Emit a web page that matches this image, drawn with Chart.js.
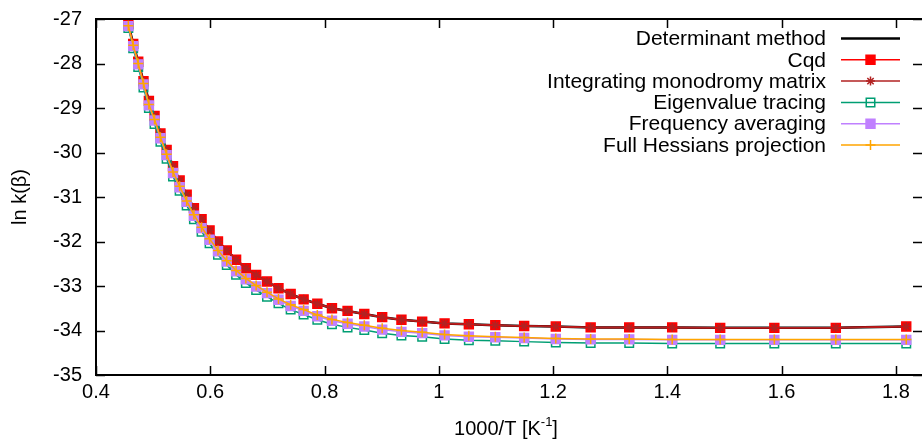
<!DOCTYPE html>
<html>
<head>
<meta charset="utf-8">
<script src="https://cdn.jsdelivr.net/npm/chart.js@4/dist/chart.umd.min.js"></script>
<style>
  html, body { margin: 0; padding: 0; background: #fff; }
  #wrap { width: 922px; height: 441px; position: relative; }
</style>
</head>
<body>
<div id="wrap"><canvas id="rateChart"></canvas></div>
<script>
// 1000/T [K^-1], one entry per temperature
const invTemp = [
  0.4566, 0.4651, 0.4739, 0.4831, 0.4926, 0.5025, 0.5128, 0.5236, 0.5348, 0.5464,
  0.5587, 0.5714, 0.5848, 0.5988, 0.6135, 0.6289, 0.6452, 0.6623, 0.6803, 0.6993,
  0.7194, 0.7407, 0.7634, 0.7874, 0.8130, 0.8403, 0.8696, 0.9009, 0.9346, 0.9709,
  1.0101, 1.0526, 1.0989, 1.1494, 1.2048, 1.2658, 1.3333, 1.4085, 1.4925, 1.5873,
  1.6949, 1.8182
];

// ln k(beta) per method
const determinant = [
  -27.12, -27.56, -27.96, -28.40, -28.84, -29.18, -29.57, -29.94, -30.31, -30.63,
  -30.95, -31.25, -31.50, -31.75, -32.00, -32.20, -32.41, -32.60, -32.75, -32.90,
  -33.05, -33.18, -33.30, -33.40, -33.50, -33.56, -33.63, -33.70, -33.76, -33.80,
  -33.84, -33.86, -33.88, -33.90, -33.91, -33.93, -33.93, -33.93, -33.94, -33.94,
  -33.94, -33.91
];
const cqd = [
  -27.12, -27.56, -27.96, -28.40, -28.84, -29.18, -29.57, -29.94, -30.31, -30.63,
  -30.95, -31.25, -31.50, -31.75, -32.00, -32.20, -32.41, -32.60, -32.75, -32.90,
  -33.05, -33.18, -33.30, -33.40, -33.50, -33.56, -33.63, -33.70, -33.76, -33.80,
  -33.84, -33.86, -33.88, -33.90, -33.91, -33.93, -33.93, -33.93, -33.94, -33.94,
  -33.94, -33.91
];
const monodromy = [
  -27.12, -27.56, -27.96, -28.40, -28.84, -29.18, -29.57, -29.94, -30.31, -30.63,
  -30.95, -31.25, -31.50, -31.75, -32.00, -32.20, -32.41, -32.60, -32.75, -32.90,
  -33.05, -33.18, -33.30, -33.40, -33.50, -33.56, -33.63, -33.70, -33.76, -33.80,
  -33.84, -33.86, -33.88, -33.90, -33.91, -33.93, -33.93, -33.93, -33.94, -33.94,
  -33.94, -33.91
];
const eigenTracing = [
  -27.20, -27.66, -28.08, -28.54, -29.00, -29.36, -29.76, -30.14, -30.54, -30.86,
  -31.19, -31.50, -31.78, -32.04, -32.30, -32.53, -32.75, -32.93, -33.09, -33.24,
  -33.39, -33.53, -33.64, -33.76, -33.86, -33.93, -33.99, -34.06, -34.11, -34.14,
  -34.19, -34.22, -34.23, -34.25, -34.27, -34.28, -34.28, -34.29, -34.29, -34.29,
  -34.29, -34.29
];
const freqAveraging = [
  -27.16, -27.61, -28.02, -28.47, -28.94, -29.28, -29.68, -30.06, -30.46, -30.78,
  -31.11, -31.42, -31.70, -31.96, -32.22, -32.45, -32.67, -32.85, -33.01, -33.16,
  -33.31, -33.45, -33.56, -33.68, -33.78, -33.85, -33.91, -33.98, -34.03, -34.06,
  -34.11, -34.14, -34.15, -34.17, -34.19, -34.20, -34.20, -34.21, -34.21, -34.21,
  -34.21, -34.21
];
const fullHessians = [
  -27.15, -27.59, -28.00, -28.45, -28.92, -29.26, -29.66, -30.04, -30.44, -30.76,
  -31.09, -31.40, -31.68, -31.94, -32.20, -32.43, -32.65, -32.83, -32.99, -33.14,
  -33.29, -33.42, -33.53, -33.65, -33.75, -33.82, -33.88, -33.95, -34.00, -34.04,
  -34.09, -34.12, -34.14, -34.16, -34.18, -34.19, -34.19, -34.20, -34.20, -34.20,
  -34.20, -34.20
];

// Axis ticks
const xTicks = [0.4, 0.6, 0.8, 1.0, 1.2, 1.4, 1.6, 1.8];
const xTickLabels = ['0.4', '0.6', '0.8', '1', '1.2', '1.4', '1.6', '1.8'];
const yTicks = [-35, -34, -33, -32, -31, -30, -29, -28, -27];

const FONT = '"Liberation Sans", Arial, Helvetica, sans-serif';
Chart.defaults.font.family = FONT;
Chart.defaults.font.size = 20;
Chart.defaults.color = '#000';

function toPoints(ys) {
  return ys.map((y, i) => ({ x: invTemp[i], y: y }));
}

// Border and inward ticks on all four sides, gnuplot style
// (the right border line itself falls just outside the picture)
const framePlugin = {
  id: 'frame',
  afterDraw(chart) {
    const ctx = chart.ctx;
    const a = chart.chartArea;
    const xs = chart.scales.x;
    const ys = chart.scales.y;
    const len = 9;
    ctx.save();
    ctx.strokeStyle = '#000';
    ctx.lineWidth = 1.5;
    ctx.beginPath();
    xs.ticks.forEach(t => {
      const px = Math.round(xs.getPixelForValue(t.value)) + 0.5;
      ctx.moveTo(px, a.bottom); ctx.lineTo(px, a.bottom - len);
      ctx.moveTo(px, a.top); ctx.lineTo(px, a.top + len);
    });
    ys.ticks.forEach(t => {
      const py = Math.round(ys.getPixelForValue(t.value)) + 0.5;
      ctx.moveTo(a.left, py); ctx.lineTo(a.left + len, py);
      ctx.moveTo(a.right + 1, py); ctx.lineTo(a.right + 1 - len, py);
    });
    ctx.stroke();
    ctx.lineWidth = 2;
    ctx.beginPath();
    ctx.moveTo(a.right + 2, a.top);
    ctx.lineTo(a.left, a.top);
    ctx.lineTo(a.left, a.bottom);
    ctx.lineTo(a.right + 2, a.bottom);
    ctx.stroke();

    // x axis title with superscript
    ctx.fillStyle = '#000';
    ctx.textBaseline = 'alphabetic';
    const main = '1000/T [K';
    ctx.font = '20px ' + FONT;
    const w1 = ctx.measureText(main).width;
    const w3 = ctx.measureText(']').width;
    ctx.font = '13px ' + FONT;
    const w2 = ctx.measureText('-1').width;
    const cx = 506;
    let x0 = cx - (w1 + w2 + w3) / 2;
    const base = 435;
    ctx.font = '20px ' + FONT;
    ctx.textAlign = 'left';
    ctx.fillText(main, x0, base);
    ctx.font = '13px ' + FONT;
    ctx.fillText('-1', x0 + w1, base - 9);
    ctx.font = '20px ' + FONT;
    ctx.fillText(']', x0 + w1 + w2, base);
    ctx.restore();
  }
};

// Key in the upper right: label right-aligned, sample line with marker
const keyPlugin = {
  id: 'key',
  afterDraw(chart) {
    const ctx = chart.ctx;
    const textRight = 826;
    const lineL = 841, lineR = 900;
    const top = 38.5, step = 21.3;
    ctx.save();
    ctx.font = '21px ' + FONT;
    ctx.textAlign = 'right';
    ctx.textBaseline = 'middle';
    chart.data.datasets.forEach((ds, i) => {
      const y = top + i * step;
      ctx.fillStyle = '#000';
      ctx.fillText(ds.label, textRight, y + 1);
      ctx.strokeStyle = ds.borderColor;
      ctx.lineWidth = ds.borderWidth;
      ctx.beginPath();
      ctx.moveTo(lineL, y); ctx.lineTo(lineR, y);
      ctx.stroke();
      if (ds.pointRadius > 0) {
        ctx.fillStyle = ds.pointBackgroundColor;
        ctx.strokeStyle = ds.pointBorderColor;
        ctx.lineWidth = ds.pointBorderWidth;
        Chart.helpers.drawPoint(ctx, {
          pointStyle: ds.pointStyle, radius: ds.pointRadius,
          rotation: 0, borderWidth: ds.pointBorderWidth
        }, (lineL + lineR) / 2, y);
      }
    });
    ctx.restore();
  }
};

function series(label, data, color, width, style, radius, fill, order) {
  return {
    label: label,
    data: toPoints(data),
    borderColor: color,
    backgroundColor: color,
    borderWidth: width,
    pointStyle: style,
    pointRadius: radius,
    pointHoverRadius: radius,
    pointBackgroundColor: fill,
    pointBorderColor: color,
    pointBorderWidth: 1.5,
    tension: 0,
    fill: false,
    order: order
  };
}

new Chart(document.getElementById('rateChart'), {
  type: 'line',
  data: {
    datasets: [
      series('Determinant method', determinant, '#000000', 2.5, false, 0, '#000000', 6),
      series('Cqd', cqd, '#ff0000', 1.5, 'rect', 6.3, '#ff0000', 5),
      series('Integrating monodromy matrix', monodromy, '#b22222', 1.5, 'star', 4.5, '#b22222', 4),
      series('Eigenvalue tracing', eigenTracing, '#009e73', 1.5, 'rect', 6, 'rgba(0,0,0,0)', 3),
      series('Frequency averaging', freqAveraging, '#c080ff', 1.5, 'rect', 6.3, '#c080ff', 2),
      series('Full Hessians projection', fullHessians, '#ffa500', 1.5, 'cross', 5, '#ffa500', 1)
    ]
  },
  options: {
    responsive: true,
    maintainAspectRatio: false,
    animation: false,
    devicePixelRatio: 1,
    layout: { autoPadding: false, padding: { left: 0, right: 1, top: 19, bottom: 0 } },
    plugins: {
      legend: { display: false },
      tooltip: { enabled: false }
    },
    scales: {
      x: {
        type: 'linear',
        min: 0.4,
        max: 1.844,
        afterFit: s => { s.height = 66; s.paddingLeft = 0; s.paddingRight = 0; },
        afterBuildTicks: s => { s.ticks = xTicks.map(v => ({ value: v })); },
        grid: { display: false, drawTicks: false },
        border: { display: false },
        ticks: {
          padding: 5,
          maxRotation: 0,
          autoSkip: false,
          callback: v => xTickLabels[xTicks.findIndex(t => Math.abs(t - v) < 1e-6)]
        }
      },
      y: {
        type: 'linear',
        min: -35,
        max: -27,
        afterFit: s => { s.width = 96; s.paddingTop = 0; s.paddingBottom = 0; },
        afterBuildTicks: s => { s.ticks = yTicks.map(v => ({ value: v })); },
        grid: { display: false, drawTicks: false },
        border: { display: false },
        ticks: {
          padding: 14,
          autoSkip: false,
          callback: v => String(v)
        },
        title: {
          display: true,
          text: 'ln k(\u03b2)',
          padding: { top: 8, bottom: 0 }
        }
      }
    }
  },
  plugins: [framePlugin, keyPlugin]
});
</script>
</body>
</html>
